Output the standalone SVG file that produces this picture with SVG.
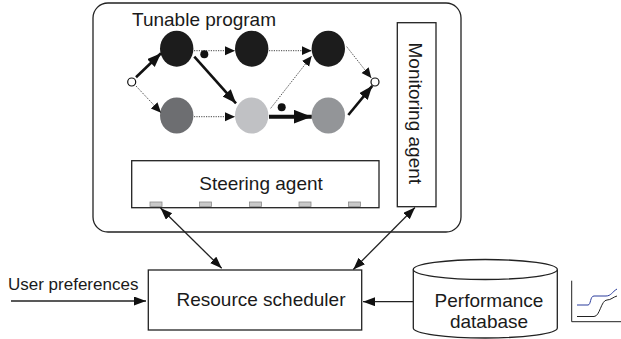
<svg xmlns="http://www.w3.org/2000/svg" width="621" height="339" viewBox="0 0 621 339">
  <style>
    text { font-family: "Liberation Sans", Arial, sans-serif; fill: #1a1a1a; }
    .lbl { font-size: 19px; }
    .box { fill: #fff; stroke: #222; stroke-width: 1.3; }
    .dot { fill: none; stroke: #444; stroke-width: 1; stroke-dasharray: 1.2 1.2; }
    .thick { fill: none; stroke: #111; stroke-width: 2.6; }
    .heavy { fill: none; stroke: #111; stroke-width: 4; }
    .thin { fill: none; stroke: #222; stroke-width: 1.3; }
    .port { fill: #c8c8c8; stroke: #8a8a8a; stroke-width: 0.8; }
  </style>
  <defs>
    <marker id="ahSmall" markerUnits="userSpaceOnUse" markerWidth="12" markerHeight="10" refX="10" refY="4.5" orient="auto">
      <path d="M0,0 L10,4.5 L0,9 Z" fill="#111"/>
    </marker>
    <marker id="ahMid" markerUnits="userSpaceOnUse" markerWidth="16" markerHeight="12" refX="14" refY="5.5" orient="auto">
      <path d="M0,0 L14,5.5 L0,11 Z" fill="#111"/>
    </marker>
    <marker id="ahBig" markerUnits="userSpaceOnUse" markerWidth="20" markerHeight="16" refX="18" refY="7" orient="auto">
      <path d="M0,0 L18,7 L0,14 Z" fill="#111"/>
    </marker>
    <marker id="ahLine" markerUnits="userSpaceOnUse" markerWidth="14" markerHeight="10" refX="12" refY="4.5" orient="auto-start-reverse">
      <path d="M0,0 L12,4.5 L0,9 Z" fill="#111"/>
    </marker>
  </defs>

  <!-- outer container -->
  <g id="container">
    <rect x="93" y="3" width="368" height="229" rx="15" ry="15" class="box"/>
    <text x="132" y="26" class="lbl">Tunable program</text>
  </g>

  <!-- program graph nodes -->
  <g id="start"><circle cx="131.7" cy="82" r="4" fill="#fff" stroke="#111" stroke-width="1.2"/></g>
  <g id="end"><circle cx="375" cy="82" r="4" fill="#fff" stroke="#111" stroke-width="1.2"/></g>
  <g id="task-a1"><ellipse cx="176.7" cy="48.7" rx="16.7" ry="18" fill="#1c1c1c"/></g>
  <g id="task-a2"><ellipse cx="251.7" cy="48.7" rx="16.7" ry="18" fill="#1c1c1c"/></g>
  <g id="task-a3"><ellipse cx="328.3" cy="48.7" rx="16.7" ry="18" fill="#1c1c1c"/></g>
  <g id="task-b1"><ellipse cx="176.7" cy="115.5" rx="16.7" ry="18" fill="#6d6e71"/></g>
  <g id="task-b2"><ellipse cx="251.7" cy="115.5" rx="16.7" ry="18" fill="#c0c1c4"/></g>
  <g id="task-b3"><ellipse cx="328.3" cy="115.5" rx="16.7" ry="18" fill="#939598"/></g>

  <!-- agents and services -->
  <g id="steering-agent">
    <rect x="131.7" y="160.7" width="247.3" height="47" class="box"/>
    <text x="261" y="190" class="lbl" text-anchor="middle">Steering agent</text>
    <rect x="150" y="202" width="12" height="4.5" class="port"/>
    <rect x="199.5" y="202" width="12" height="4.5" class="port"/>
    <rect x="249.5" y="202" width="12" height="4.5" class="port"/>
    <rect x="299" y="202" width="12" height="4.5" class="port"/>
    <rect x="348.5" y="202" width="12" height="4.5" class="port"/>
  </g>
  <g id="monitoring-agent">
    <rect x="397.3" y="22.7" width="38.7" height="184" class="box"/>
    <text transform="translate(408.5,113.3) rotate(90)" class="lbl" text-anchor="middle">Monitoring agent</text>
  </g>
  <g id="resource-scheduler">
    <rect x="148.3" y="270" width="213.4" height="60" class="box"/>
    <text x="261" y="306" class="lbl" text-anchor="middle">Resource scheduler</text>
  </g>
  <g id="performance-database">
    <path d="M413.3,269.5 V328 A72,10 0 0 0 557.3,328 V269.5" class="box"/>
    <ellipse cx="485.3" cy="269.5" rx="72" ry="10" class="box"/>
    <text x="489" y="307" class="lbl" text-anchor="middle">Performance</text>
    <text x="489" y="328" class="lbl" text-anchor="middle">database</text>
  </g>
  <g id="chart">
    <path d="M571.7,280.7 V321.7 H621" fill="none" stroke="#222" stroke-width="1"/>
    <path d="M577,305 H588 C591,305 590,296 594,296 H606 C611,296 612,292 617,289" fill="none" stroke="#2b3c9c" stroke-width="1"/>
    <path d="M577,316.5 H594 C600,316.5 601,300 607,300 C611,300 613,297 617,296" fill="none" stroke="#222" stroke-width="1"/>
  </g>
  <g id="user-preferences">
    <text x="8" y="290" font-size="17">User preferences</text>
  </g>

  <!-- connectors -->
  <g id="connectors">
    <line x1="136" y1="77.3" x2="161" y2="53.3" class="thick" marker-end="url(#ahMid)"/>
    <line x1="136" y1="86" x2="161" y2="112.7" class="dot" marker-end="url(#ahSmall)"/>
    <line x1="194" y1="50.7" x2="235" y2="50.7" class="dot" marker-end="url(#ahSmall)"/>
    <line x1="194.3" y1="56.7" x2="236" y2="103.3" class="thick" marker-end="url(#ahMid)"/>
    <line x1="194" y1="116.7" x2="235" y2="116.7" class="dot" marker-end="url(#ahSmall)"/>
    <line x1="269" y1="50.7" x2="311.7" y2="50.7" class="dot" marker-end="url(#ahSmall)"/>
    <line x1="270.7" y1="108.3" x2="311.7" y2="56" class="dot" marker-end="url(#ahSmall)"/>
    <line x1="269" y1="116.7" x2="311.7" y2="116.7" class="heavy" marker-end="url(#ahBig)"/>
    <line x1="346.7" y1="46.7" x2="371.3" y2="78" class="dot" marker-end="url(#ahSmall)"/>
    <line x1="348.3" y1="115" x2="372.3" y2="85.8" class="thick" marker-end="url(#ahMid)"/>
    <circle cx="204.3" cy="54.3" r="4" fill="#111"/>
    <circle cx="281.7" cy="107.3" r="4" fill="#111"/>

    <line x1="160.5" y1="208" x2="221.7" y2="268.3" class="thin" marker-start="url(#ahLine)" marker-end="url(#ahLine)"/>
    <line x1="415" y1="207.5" x2="353.3" y2="269.5" class="thin" marker-start="url(#ahLine)" marker-end="url(#ahLine)"/>
    <line x1="11" y1="301" x2="146" y2="301" class="thin" marker-end="url(#ahLine)"/>
    <line x1="413.3" y1="301.7" x2="363" y2="301.7" class="thin" marker-end="url(#ahLine)"/>
  </g>
</svg>
